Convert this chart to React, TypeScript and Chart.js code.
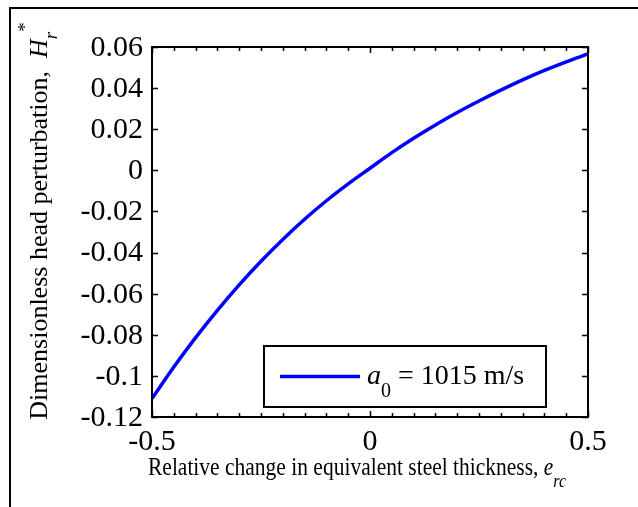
import React, { useEffect, useRef } from "react";
import { Chart, registerables } from "chart.js";

Chart.register(...registerables);

// Relative change in equivalent steel thickness, e_rc
const eRc = [
  -0.5, -0.45, -0.4, -0.35, -0.3, -0.25, -0.2, -0.15, -0.1, -0.05, 0,
  0.05, 0.1, 0.15, 0.2, 0.25, 0.3, 0.35, 0.4, 0.45, 0.5,
];
// Dimensionless head perturbation, H_r*
const headPerturbation = [
  -0.111, -0.0957, -0.0814, -0.0681, -0.0557, -0.0442, -0.0336, -0.0238,
  -0.0148, -0.0066, 0.001, 0.0086, 0.0156, 0.0221, 0.0281, 0.0337, 0.039,
  0.044, 0.0486, 0.0528, 0.0566,
];

const yTickValues = [0.06, 0.04, 0.02, 0, -0.02, -0.04, -0.06, -0.08, -0.1, -0.12];
const yTickLabels = ["0.06", "0.04", "0.02", "0", "-0.02", "-0.04", "-0.06", "-0.08", "-0.1", "-0.12"];
const xTickValues = [-0.5, 0, 0.5];
const xTickLabels = ["-0.5", "0", "0.5"];
const xMinorTicks = [
  -0.45, -0.4, -0.35, -0.3, -0.25, -0.2, -0.15, -0.1, -0.05,
  0.05, 0.1, 0.15, 0.2, 0.25, 0.3, 0.35, 0.4, 0.45,
];
const legendValue = " = 1015 m/s";

const SERIF = '"Liberation Serif", "Times New Roman", serif';

type Piece = { t: string; f: string; dy?: number };

function richWidth(ctx: CanvasRenderingContext2D, pieces: Piece[]) {
  let w = 0;
  for (const p of pieces) {
    ctx.font = p.f;
    w += ctx.measureText(p.t).width;
  }
  return w;
}

// draws pieces in a local frame at (x,y), optionally stretched
function drawRich(
  ctx: CanvasRenderingContext2D,
  pieces: Piece[],
  x: number,
  y: number,
  sx = 1,
  sy = 1
) {
  ctx.save();
  ctx.translate(x, y);
  ctx.scale(sx, sy);
  let cx = 0;
  ctx.textAlign = "left";
  ctx.textBaseline = "alphabetic";
  for (const p of pieces) {
    ctx.font = p.f;
    ctx.fillText(p.t, cx, p.dy || 0);
    cx += ctx.measureText(p.t).width;
  }
  ctx.restore();
}

const matlabPlugin = {
  id: "matlabDecor",
  afterDraw(chart: any) {
    const ctx: CanvasRenderingContext2D = chart.ctx;
    const { left, right, top, bottom } = chart.chartArea;
    const xs = chart.scales.x;
    const ys = chart.scales.y;
    ctx.save();
    ctx.fillStyle = "#000";
    ctx.strokeStyle = "#000";

    // outer figure frame
    ctx.lineWidth = 2;
    ctx.strokeRect(10, 8, 800, 700);

    // axes box
    ctx.lineWidth = 2;
    ctx.strokeRect(left, top, right - left, bottom - top);

    // ticks pointing inward
    ctx.lineWidth = 1.5;
    ctx.beginPath();
    for (const v of yTickValues) {
      const py = Math.round(ys.getPixelForValue(v)) + 0.5;
      ctx.moveTo(left, py);
      ctx.lineTo(left + 6, py);
      ctx.moveTo(right, py);
      ctx.lineTo(right - 6, py);
    }
    for (const v of xTickValues) {
      const px = Math.round(xs.getPixelForValue(v)) + 0.5;
      ctx.moveTo(px, bottom);
      ctx.lineTo(px, bottom - 6);
      ctx.moveTo(px, top);
      ctx.lineTo(px, top + 6);
    }
    for (const v of xMinorTicks) {
      const px = Math.round(xs.getPixelForValue(v)) + 0.5;
      ctx.moveTo(px, bottom);
      ctx.lineTo(px, bottom - 4);
      ctx.moveTo(px, top);
      ctx.lineTo(px, top + 4);
    }
    ctx.stroke();

    // y tick labels
    ctx.font = `30px ${SERIF}`;
    ctx.textAlign = "right";
    ctx.textBaseline = "middle";
    yTickValues.forEach((v, i) => {
      ctx.fillText(yTickLabels[i], left - 9, ys.getPixelForValue(v) + 1);
    });
    // x tick labels
    ctx.textAlign = "center";
    ctx.textBaseline = "alphabetic";
    xTickValues.forEach((v, i) => {
      ctx.fillText(xTickLabels[i], xs.getPixelForValue(v), bottom + 33);
    });

    // x axis title
    const xt: Piece[] = [
      { t: "Relative change in equivalent steel thickness, ", f: `21.5px ${SERIF}` },
      { t: "e", f: `italic 21.5px ${SERIF}` },
      { t: "rc", f: `italic 16px ${SERIF}`, dy: 11 },
    ];
    drawRich(ctx, xt, 148, 475, 1, 1.13);

    // y axis title (rotated)
    const yt: Piece[] = [
      { t: "Dimensionless head perturbation,  ", f: `26px ${SERIF}` },
      { t: "H", f: `italic 26px ${SERIF}` },
      { t: "r", f: `italic 19px ${SERIF}`, dy: 10 },
      { t: "*", f: `19px ${SERIF}`, dy: -16 },
    ];
    const yw = richWidth(ctx, yt);
    ctx.save();
    ctx.translate(47, 221);
    ctx.rotate(-Math.PI / 2);
    drawRich(ctx, yt, -yw / 2, 0);
    ctx.restore();

    // legend
    const lx = 264, ly = 346, lw = 282, lh = 61;
    ctx.fillStyle = "#fff";
    ctx.fillRect(lx, ly, lw, lh);
    ctx.lineWidth = 2;
    ctx.strokeStyle = "#000";
    ctx.strokeRect(lx, ly, lw, lh);
    ctx.strokeStyle = "#0000ff";
    ctx.lineWidth = 3.5;
    ctx.beginPath();
    ctx.moveTo(280, 376.5);
    ctx.lineTo(360, 376.5);
    ctx.stroke();
    ctx.fillStyle = "#000";
    drawRich(
      ctx,
      [
        { t: "a", f: `italic 28px ${SERIF}` },
        { t: "0", f: `20px ${SERIF}`, dy: 13 },
        { t: legendValue, f: `28px ${SERIF}` },
      ],
      367,
      384
    );
    ctx.restore();
  },
};

export default function App() {
  const ref = useRef<HTMLCanvasElement | null>(null);
  useEffect(() => {
    document.body.style.margin = "0";
    const canvas = ref.current;
    if (!canvas) return;
    const chart = new Chart(canvas, {
      type: "line",
      data: {
        datasets: [
          {
            label: "a0 = 1015 m/s",
            data: eRc.map((x, i) => ({ x, y: headPerturbation[i] })),
            borderColor: "#0000ff",
            borderWidth: 3.5,
            pointRadius: 0,
            fill: false,
            cubicInterpolationMode: "monotone",
          },
        ],
      },
      options: {
        responsive: false,
        animation: false,
        devicePixelRatio: 1,
        layout: { padding: { left: 152, top: 47, right: 50, bottom: 90 } },
        plugins: { legend: { display: false }, tooltip: { enabled: false } },
        scales: {
          x: { type: "linear", min: -0.5, max: 0.5, display: false },
          y: { type: "linear", min: -0.12, max: 0.06, display: false },
        },
      },
      plugins: [matlabPlugin],
    });
    return () => chart.destroy();
  }, []);
  return (
    <div style={{ width: 638, height: 507, background: "#fff" }}>
      <canvas ref={ref} width={638} height={507} style={{ display: "block", width: 638, height: 507 }} />
    </div>
  );
}
